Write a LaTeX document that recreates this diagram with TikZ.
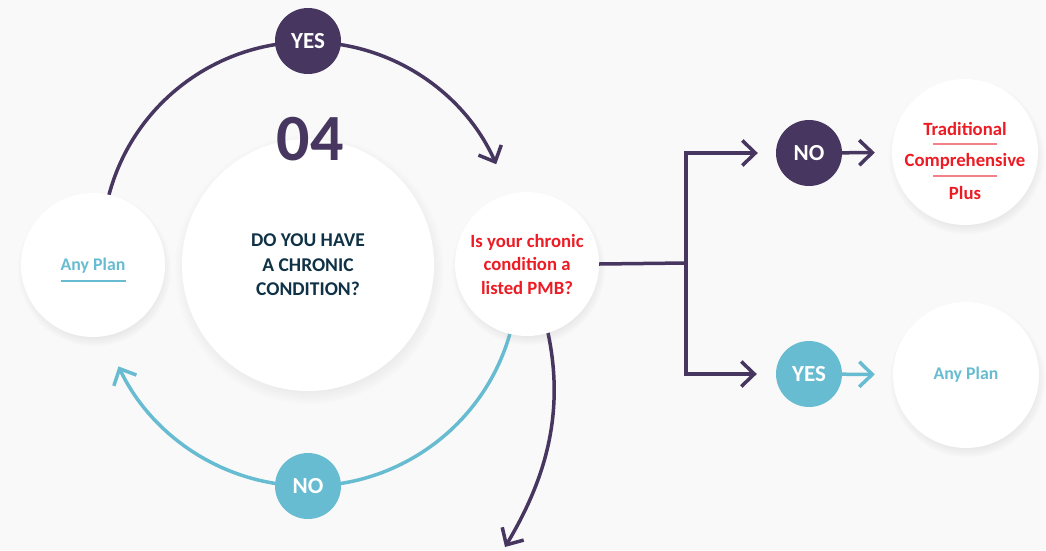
\documentclass[tikz,border=0pt]{standalone}
\usepackage{fontspec}
\setmainfont{Carlito}
\usetikzlibrary{arrows.meta,shadows}
\definecolor{bgc}{RGB}{249,249,249}
\definecolor{plum}{RGB}{70,54,96}
\definecolor{tealc}{RGB}{104,188,209}
\definecolor{redc}{RGB}{237,28,36}
\definecolor{navy}{RGB}{16,50,70}
\definecolor{pinkline}{RGB}{243,130,135}
\begin{document}
\begin{tikzpicture}[x=1pt,y=-1pt,
  bubble/.style={circle, fill=white, inner sep=0pt, align=center,
    circular drop shadow={shadow xshift=1pt, shadow yshift=-4pt, opacity=0.16, shadow scale=1.07}},
  tag/.style={circle, inner sep=0pt, minimum size=66pt, text=white,
    font=\bfseries\fontsize{23}{26}\selectfont},
  link/.style={line width=3.5pt},
  tipp/.style={-{Straight Barb[length=13pt,width=25pt]}},
  redtxt/.style={text=redc, font=\bfseries\fontsize{18.7}{23.5}\selectfont},
  plantxt/.style={text=tealc, font=\bfseries\fontsize{17.8}{20}\selectfont},
]
\fill[bgc] (0,0) rectangle (1046,550);
\useasboundingbox (0,0) rectangle (1046,550);

% arc centres and free ends
\coordinate (ctop) at (308,248);
\coordinate (cbot) at (308,276);
\coordinate (topstart) at ([shift={(-168:206)}]ctop);
\coordinate (botstart) at ([shift={(12:210)}]cbot);
\coordinate (curvestart) at (545,320);
\coordinate (curveend) at (505,547);
\coordinate (br) at (686,263);

% connectors behind the circles
\draw[link, plum, tipp] (topstart) arc[start angle=-168, end angle=-24, radius=206];
\draw[link, tealc, tipp] (botstart) arc[start angle=12, end angle=154.5, radius=210];
\draw[link, plum, tipp] (curvestart) .. controls (568,410) and (545,480) .. (curveend);

% white circles
\node[bubble, minimum size=252pt, text=navy, font=\bfseries\fontsize{19.5}{24.5}\selectfont]
  (big) at (308,265) {DO YOU HAVE\\A CHRONIC\\CONDITION?};
\node[text=plum, font=\bfseries\fontsize{66}{66}\selectfont] (num) at (310,139) {04};
\node[bubble, minimum size=144pt] (apl) at (93,265) {};
\node[plantxt] (apltxt) at (93,266) {Any Plan};
\draw[tealc, line width=1.2pt] (61,281) -- (126,281);
\node[bubble, minimum size=144pt, redtxt] (rc) at (527,264) {Is your chronic\\condition a\\listed PMB?};

% answer tags on the ring
\node[tag, fill=plum] (yes1) at (308,41) {YES};
\node[tag, fill=tealc] (no1) at (308,486) {NO};

% right side
\draw[link, plum] (rc.east) -- (br);
\node[tag, fill=plum] (no2) at (809,153) {NO};
\node[tag, fill=tealc] (yes2) at (809,374) {YES};
\draw[link, plum, tipp, shorten >=18pt] (br) |- (no2);
\draw[link, plum, tipp, shorten >=19pt] (br) |- (yes2);

\node[bubble, minimum size=146pt] (trad) at (965,152) {};
\node[redtxt] (t1) at (965,129) {Traditional};
\node[redtxt] (t2) at (965,161) {Comprehensive};
\node[redtxt] (t3) at (965,193) {Plus};
\draw[pinkline, line width=1.2pt] (933,144) -- (997,144);
\draw[pinkline, line width=1.2pt] (933,176) -- (997,176);
\draw[link, plum, tipp, shorten >=17pt] (no2) -- (trad);

\node[bubble, minimum size=146pt, plantxt] (ap2) at (966,375) {Any Plan};
\draw[link, tealc, tipp, shorten >=18pt] (yes2) -- (ap2);
\end{tikzpicture}
\end{document}
